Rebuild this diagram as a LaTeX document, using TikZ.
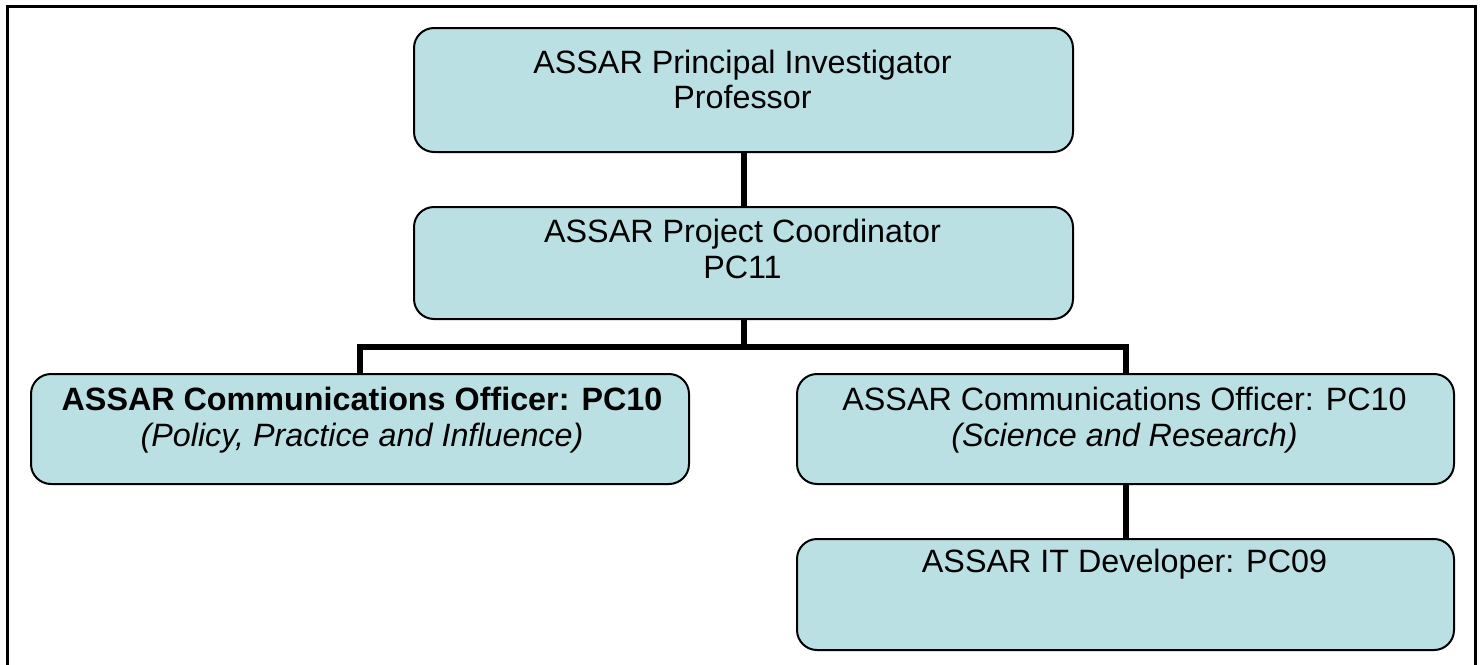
\documentclass[tikz,border=0pt]{standalone}
\usepackage{fontspec}
\setmainfont{Liberation Sans}
\definecolor{boxfill}{RGB}{187,224,227}
\begin{document}
\begin{tikzpicture}[x=1pt,y=-1pt,
  box/.style={draw=black, line width=2pt, fill=boxfill, rounded corners=20pt,
              inner sep=0pt, anchor=north west},
  txt/.style={anchor=base, inner sep=0pt, font=\fontsize{32.3}{38}\selectfont},
  link/.style={line width=6pt, line join=miter}]
\useasboundingbox (0,0) rectangle (1483,664);

% outer frame
\draw[line width=3pt] (7,6) rectangle (1475,690);

% boxes
\node[box, minimum width=659pt, minimum height=124pt] (pi) at (413,27) {};
\node[box, minimum width=659pt, minimum height=112pt] (pc) at (413,206) {};
\node[box, minimum width=658pt, minimum height=110pt] (cl) at (30,373) {};
\node[box, minimum width=657pt, minimum height=110pt] (cr) at (796,373) {};
\node[box, minimum width=657pt, minimum height=111pt] (it) at (796,538) {};

% connectors
\coordinate (bar) at (743,347);
\draw[link] (pi.south) -- (pc.north);
\draw[link] (pc.south) -- (pc.south |- bar);
\draw[link] (cl.north) -- (cl.north |- bar) -- (cr.north |- bar) -- (cr.north);
\draw[link] (cr.south) -- (it.north);

% labels
\node[txt] (pi1) at (742.5,73)  {ASSAR Principal Investigator};
\node[txt] (pi2) at (742.5,108) {Professor};
\node[txt] (pc1) at (742.5,242) {ASSAR Project Coordinator};
\node[txt] (pc2) at (742.5,278) {PC11};
\node[txt] (cl1) at (362,410)   {\bfseries ASSAR Communications Officer: PC10};
\node[txt] (cl2) at (362,446)   {\itshape (Policy, Practice and Influence)};
\node[txt] (cr1) at (1124.5,410) {ASSAR Communications Officer: PC10};
\node[txt] (cr2) at (1124.5,446) {\itshape (Science and Research)};
\node[txt] (it1) at (1124.5,572) {ASSAR IT Developer: PC09};
\end{tikzpicture}
\end{document}
